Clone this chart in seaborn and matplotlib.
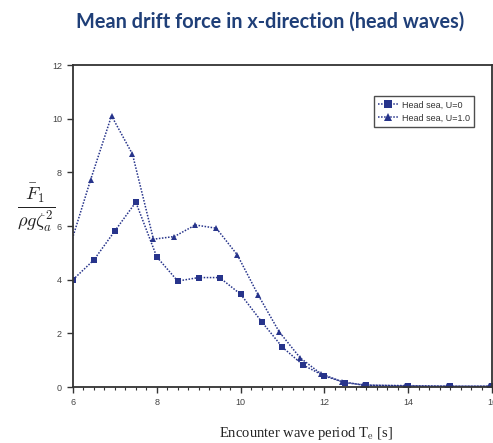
import matplotlib
matplotlib.use("Agg")
import matplotlib.pyplot as plt
import seaborn as sns
import pandas as pd
from matplotlib.ticker import MultipleLocator

# Encounter wave period [s] and nondimensional mean drift force
period_u0 = [6.0, 6.5, 7.0, 7.5, 8.0, 8.5, 9.0, 9.5, 10.0, 10.5, 11.0, 11.5, 12.0, 12.5, 13.0, 14.0, 15.0, 16.0]
force_u0 = [4.0, 4.74, 5.82, 6.89, 4.85, 3.95, 4.08, 4.08, 3.46, 2.44, 1.48, 0.81, 0.41, 0.16, 0.07, 0.05, 0.03, 0.03]

period_u1 = [5.92, 6.42, 6.92, 7.42, 7.92, 8.42, 8.92, 9.42, 9.92, 10.42, 10.92, 11.42, 11.92, 12.42, 12.92, 13.92, 14.92, 15.92]
force_u1 = [5.2, 7.72, 10.11, 8.68, 5.51, 5.61, 6.04, 5.92, 4.93, 3.43, 2.06, 1.09, 0.49, 0.2, 0.07, 0.04, 0.03, 0.03]

labels = ["Head sea, U=0", "Head sea, U=1.0"]

df = pd.concat([
    pd.DataFrame({"T": period_u0, "F": force_u0, "case": labels[0]}),
    pd.DataFrame({"T": period_u1, "F": force_u1, "case": labels[1]}),
])

sns.set_style("white")
plt.rcParams["font.family"] = ["Liberation Sans", "DejaVu Sans"]
plt.rcParams["mathtext.fontset"] = "cm"

navy = "#27348b"
fig = plt.figure(figsize=(4.93, 4.43), dpi=100)
ax = fig.add_axes([0.148, 0.1264, 0.85, 0.7266])

sns.lineplot(data=df, x="T", y="F", hue="case", style="case",
             palette=[navy, navy], markers=["s", "^"], dashes=[(1, 1), (1, 1)],
             markersize=5, markeredgewidth=0, linewidth=1.1, ax=ax,
             sort=False, clip_on=True)

ax.set_xlim(6, 16)
ax.set_ylim(0, 12)
ax.xaxis.set_major_locator(MultipleLocator(2))
ax.xaxis.set_minor_locator(MultipleLocator(0.25))
ax.yaxis.set_major_locator(MultipleLocator(2))
ax.tick_params(axis="both", which="major", direction="out", length=4, width=1,
               color="#333333", labelsize=6.5, labelcolor="#444444", pad=4)
ax.tick_params(axis="x", which="minor", direction="out", length=2.5, width=0.8,
               color="#333333", bottom=True)
ax.tick_params(bottom=True, left=True)
for s in ax.spines.values():
    s.set_color("#333333")
    s.set_linewidth(1.3)

ax.set_xlabel(r"Encounter wave period T$_\mathrm{e}$ [s]", fontfamily="Liberation Serif",
              fontsize=10.5, color="#222222", va="center")
ax.xaxis.set_label_coords(0.556, -0.146)
ax.set_ylabel(r"$\frac{\bar{F}_1}{\rho g \zeta_a^2}$", fontsize=19, rotation=0,
              color="#222222", va="center", ha="center")
ax.yaxis.set_label_coords(-0.088, 0.555)

leg = ax.legend(loc="upper right", bbox_to_anchor=(0.968, 0.918), fontsize=6.5,
                frameon=True, fancybox=False, handlelength=2.2, borderpad=0.5,
                labelspacing=0.45, handletextpad=0.4, markerscale=1.1)
leg.get_frame().set_edgecolor("#222222")
leg.get_frame().set_linewidth(1.0)
for t in leg.get_texts():
    t.set_color("#333333")

fig.text(0.547, 0.95, "Mean drift force in x-direction (head waves)",
         ha="center", va="center", fontsize=14.3, fontweight="bold",
         fontfamily="Lato", color="#1f3f78")

fig.savefig("out.png", dpi=100)
